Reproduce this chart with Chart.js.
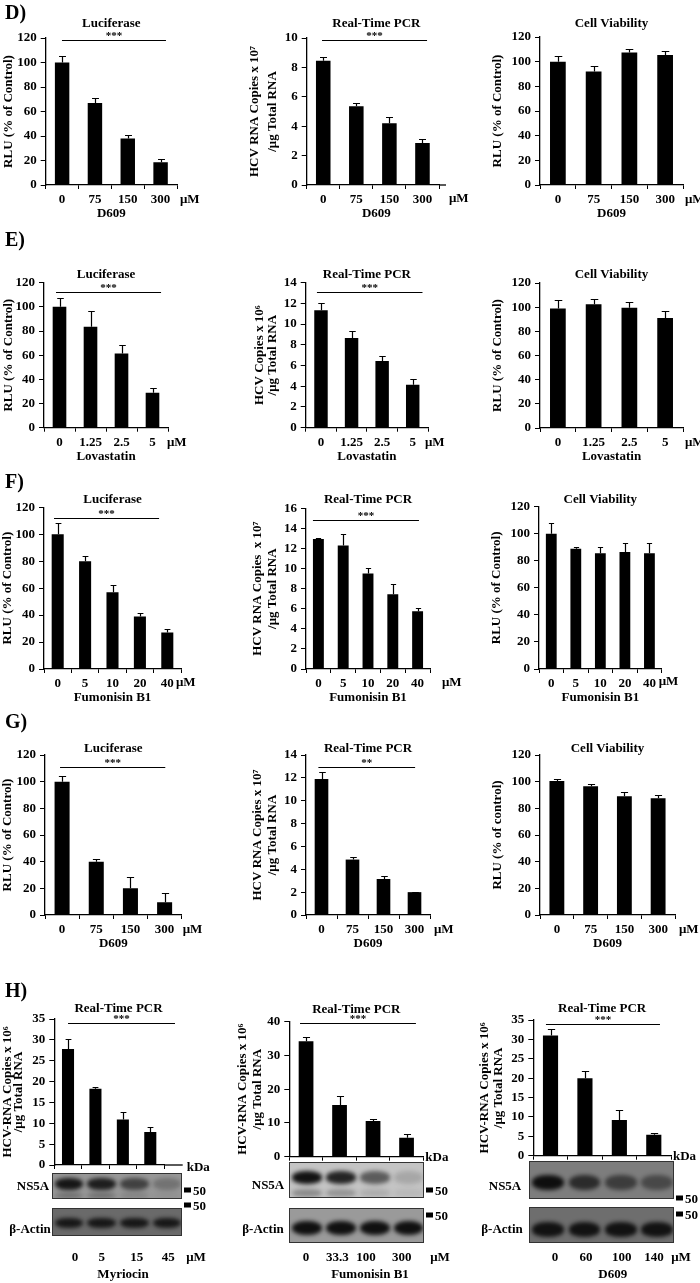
<!DOCTYPE html>
<html><head><meta charset="utf-8">
<script src="https://cdn.jsdelivr.net/npm/chart.js@4.4.1/dist/chart.umd.min.js"></script>
<style>
html,body{margin:0;padding:0;background:#fff;}
#page{position:relative;width:700px;height:1283px;overflow:hidden;font-family:"Liberation Serif","Times New Roman",serif;font-weight:bold;color:#000;}
canvas{position:absolute;}
.t{position:absolute;white-space:nowrap;transform:translate(-50%,-50%);font-size:13px;line-height:1;}
.tl{position:absolute;white-space:nowrap;transform:translate(0,-50%);font-size:13px;line-height:1;}
.panel{position:absolute;font-size:20px;transform:translate(0,-50%);line-height:1;}
.blot{position:absolute;overflow:hidden;border:1px solid #333;box-sizing:border-box;}
.mk{position:absolute;width:7px;height:5px;background:#000;transform:translate(0,-50%);}
</style></head>
<body><div id="page"></div>
<script>
// ---------------- DATA ----------------
const d609Doses = ['0', '75', '150', '300'];
const lovastatinDoses = ['0', '1.25', '2.5', '5'];
const fb1Doses = ['0', '5', '10', '20', '40'];
const myriocinDosesH = ['0', '5', '15', '45'];
const fb1DosesH = ['0', '33.3', '100', '300'];
const d609DosesH = ['0', '60', '100', '140'];

const rluTicks = [0, 20, 40, 60, 80, 100, 120];
const pcr10Ticks = [0, 2, 4, 6, 8, 10];
const pcr14Ticks = [0, 2, 4, 6, 8, 10, 12, 14];
const pcr16Ticks = [0, 2, 4, 6, 8, 10, 12, 14, 16];
const h35Ticks = [0, 5, 10, 15, 20, 25, 30, 35];
const h40Ticks = [0, 5, 10, 15, 20, 25, 30, 35, 40];

const dLucMean = [100, 67, 38, 18.5];
const dLucErr = [5, 4, 3, 3];
const dPcrMean = [8.45, 5.35, 4.2, 2.85];
const dPcrErr = [0.25, 0.25, 0.4, 0.3];
const dViaMean = [100, 92, 107.5, 105.5];
const dViaErr = [5, 4.5, 3, 3.5];

const eLucMean = [100, 83.5, 61.5, 29];
const eLucErr = [7, 13, 7, 3.5];
const ePcrMean = [11.35, 8.65, 6.45, 4.15];
const ePcrErr = [0.7, 0.7, 0.5, 0.55];
const eViaMean = [99, 102.5, 99.5, 91];
const eViaErr = [7, 4.5, 4.5, 6];

const fLucMean = [100, 80, 57, 39, 27];
const fLucErr = [8, 4, 5.5, 2.5, 3];
const fPcrMean = [12.95, 12.3, 9.5, 7.45, 5.75];
const fPcrErr = [0.1, 1.15, 0.6, 1.05, 0.3];
const fViaMean = [100, 89, 85.5, 86.5, 85.5];
const fViaErr = [8, 1, 4.5, 6.5, 8];

const gLucMean = [100, 40, 20, 9.5];
const gLucErr = [4.5, 2, 8.5, 7];
const gPcrMean = [11.9, 4.85, 3.15, 2.0];
const gPcrErr = [0.6, 0.2, 0.3, 0.05];
const gViaMean = [100.5, 96.5, 89, 87.5];
const gViaErr = [1.5, 2, 3.5, 2.5];

const hMyrMean = [27.8, 18.3, 10.9, 7.9];
const hMyrErr = [2.5, 0.3, 1.7, 1.3];
const hFb1Mean = [34.2, 15.3, 10.6, 5.6];
const hFb1Err = [1.3, 2.8, 0.5, 1.0];
const hD609Mean = [31, 20, 9.2, 5.4];
const hD609Err = [1.8, 1.8, 2.6, 0.5];

// western blot band intensities (per lane)
const ns5aMyr = [0.9, 0.85, 0.6, 0.25];
const actinMyr = [0.85, 0.85, 0.85, 0.85];
const ns5aFb1 = [0.95, 0.85, 0.55, 0.15];
const actinFb1 = [0.95, 0.95, 0.95, 0.95];
const ns5aD609 = [0.95, 0.7, 0.55, 0.45];
const actinD609 = [0.9, 0.9, 0.9, 0.9];

// ---------------- DRAWING ----------------
const page = document.getElementById('page');
const FONT = '"Liberation Serif", "Times New Roman", serif';
const WY = 34, HX = 22;
const crisp = v => Math.round(v) + 0.5;

function annot(spec) {
  return {
    id: 'annot',
    afterDatasetsDraw(chart) {
      const ctx = chart.ctx, ys = chart.scales.y;
      const meta = chart.getDatasetMeta(0);
      ctx.save();
      ctx.strokeStyle = '#000'; ctx.lineWidth = 1.2;
      meta.data.forEach((bar, i) => {
        const v = spec.values[i], e = spec.errors[i];
        const top = crisp(ys.getPixelForValue(v + e));
        const cap = bar.width * 0.24;
        const bx = crisp(bar.x);
        ctx.beginPath();
        ctx.moveTo(bx, bar.y); ctx.lineTo(bx, top);
        ctx.moveTo(bx - cap, top); ctx.lineTo(bx + cap, top);
        ctx.stroke();
      });
      ctx.restore();
    },
    afterDraw(chart) {
      const ctx = chart.ctx, ca = chart.chartArea;
      const L = ca.left, R = ca.left + (spec.box[1] - spec.box[0]);
      const mid = (L + R) / 2;
      ctx.save();
      ctx.fillStyle = '#000'; ctx.strokeStyle = '#000';
      if (R > ca.right + 0.5) {
        ctx.lineWidth = 1.3;
        ctx.beginPath(); ctx.moveTo(ca.right, ca.bottom); ctx.lineTo(R, ca.bottom); ctx.stroke();
      }
      ctx.textAlign = 'center'; ctx.textBaseline = 'middle';
      ctx.font = 'bold 13px ' + FONT;
      ctx.fillText(spec.title, mid, ca.top + spec.titleDy);
      if (spec.sig) {
        const sy = crisp(ca.top + spec.sigDy);
        const sx0 = L + (R - L) * spec.sigFrom, sx1 = L + (R - L) * spec.sigTo;
        ctx.lineWidth = 1;
        ctx.beginPath(); ctx.moveTo(sx0, sy); ctx.lineTo(sx1, sy); ctx.stroke();
        ctx.font = 'bold 11px ' + FONT;
        ctx.fillText(spec.sig, (sx0 + sx1) / 2, sy - 4);
      }
      ctx.font = 'bold 13px ' + FONT;
      if (spec.caption) ctx.fillText(spec.caption, mid, ca.bottom + 28.5);
      ctx.textAlign = 'left';
      if (spec.unit) ctx.fillText(spec.unit, R + spec.unitDx, ca.bottom + spec.unitDy);
      const cy = (ca.top + ca.bottom) / 2;
      spec.yTitle.forEach((t, k) => {
        ctx.save();
        ctx.translate(L - spec.yTitleOff[k], cy);
        ctx.rotate(-Math.PI / 2);
        ctx.textAlign = 'center';
        ctx.fillText(t, 0, 0);
        ctx.restore();
      });
      ctx.restore();
    }
  };
}

function makeChart(spec) {
  const [x0, x1, yTop, yBot] = spec.box;
  const catEnd = spec.catEnd || x1;
  const cl = Math.floor(x0 - 62), ct = Math.floor(yTop - 34);
  const cw = Math.ceil(x1 + 36 - cl), ch = Math.ceil(yBot + 40 - ct);
  const cv = document.createElement('canvas');
  cv.width = cw; cv.height = ch;
  cv.style.left = cl + 'px'; cv.style.top = ct + 'px';
  cv.style.width = cw + 'px'; cv.style.height = ch + 'px';
  page.appendChild(cv);
  const yt = spec.yTicks;
  const tickFont = { family: FONT, size: 13, weight: 'bold' };
  new Chart(cv, {
    type: 'bar',
    data: { labels: spec.labels, datasets: [{ data: spec.values, backgroundColor: '#000', borderWidth: 0,
      barPercentage: 0.5, categoryPercentage: spec.catPct || 0.88 }] },
    options: {
      responsive: false, animation: false, devicePixelRatio: 1,
      layout: { padding: { left: x0 - cl - WY, top: yTop - ct, right: cl + cw - catEnd, bottom: ct + ch - yBot - HX } },
      plugins: { legend: { display: false }, tooltip: { enabled: false }, title: { display: false } },
      scales: {
        x: { offset: true,
          grid: { offset: true, drawOnChartArea: false, drawTicks: true, tickLength: 4, color: '#000', lineWidth: 1 },
          border: { display: true, color: '#000', width: 1.3 },
          ticks: { display: spec.xTicks !== false, color: '#000', font: tickFont, padding: 3, maxRotation: 0, autoSkip: false },
          afterFit: s => { s.height = HX; } },
        y: { min: 0, max: yt[yt.length - 1],
          afterBuildTicks: s => { s.ticks = yt.map(v => ({ value: v })); },
          grid: { drawOnChartArea: false, drawTicks: true, tickLength: 5, color: '#000', lineWidth: 1 },
          border: { display: true, color: '#000', width: 1.3 },
          ticks: { color: '#000', font: tickFont, padding: 4 },
          afterFit: s => { s.width = WY; } }
      }
    },
    plugins: [annot(spec)]
  });
}

function text(cls, str, x, y, size) {
  const d = document.createElement('div');
  d.className = cls; d.textContent = str;
  d.style.left = x + 'px'; d.style.top = y + 'px';
  if (size) d.style.fontSize = size + 'px';
  page.appendChild(d);
}

function blot(x0, x1, y0, y1, bg, intens, cy, h, lowIntens) {
  const d = document.createElement('div');
  d.className = 'blot';
  d.style.left = x0 + 'px'; d.style.top = y0 + 'px';
  d.style.width = (x1 - x0) + 'px'; d.style.height = (y1 - y0) + 'px';
  d.style.background = bg;
  const W = x1 - x0, H = y1 - y0, n = intens.length, lw = W / n;
  const add = (v, i, c, hh) => {
    const e = document.createElement('div');
    e.style.cssText = `position:absolute;left:${i * lw + lw * 0.06}px;width:${lw * 0.88}px;top:${(c - hh / 2) * H}px;height:${hh * H}px;background:rgba(8,8,8,${v});border-radius:45%;filter:blur(2px);`;
    d.appendChild(e);
  };
  intens.forEach((v, i) => add(v, i, cy, h));
  if (lowIntens) lowIntens.forEach((v, i) => add(v, i, 0.82, 0.22));
  page.appendChild(d);
}

function marker(x, y) {
  const m = document.createElement('div');
  m.className = 'mk'; m.style.left = x + 'px'; m.style.top = y + 'px';
  page.appendChild(m);
  text('tl', '50', x + 9, y);
}

const LUC = 'Luciferase', PCR = 'Real-Time PCR', VIA = 'Cell Viability';
const RLU = ['RLU (% of Control)'];

// Row D
makeChart({ box: [45.7, 177, 38, 185], labels: d609Doses, values: dLucMean, errors: dLucErr, yTicks: rluTicks,
  title: LUC, titleDy: -14, sig: '***', sigDy: 2, sigFrom: 0.124, sigTo: 0.916, yTitle: RLU, yTitleOff: [37],
  caption: 'D609', unit: 'μM', unitDx: 3, unitDy: 15 });
makeChart({ box: [306.7, 446, 38, 185], catEnd: 439, labels: d609Doses, values: dPcrMean, errors: dPcrErr, yTicks: pcr10Ticks,
  title: PCR, titleDy: -14, sig: '***', sigDy: 2, sigFrom: 0.11, sigTo: 0.864,
  yTitle: ['HCV RNA Copies x 10⁷', '/μg Total RNA'], yTitleOff: [52, 34],
  caption: 'D609', unit: 'μM', unitDx: 3, unitDy: 14 });
makeChart({ box: [540, 683, 37, 185], labels: d609Doses, values: dViaMean, errors: dViaErr, yTicks: rluTicks,
  title: VIA, titleDy: -13, yTitle: RLU, yTitleOff: [42],
  caption: 'D609', unit: 'μM', unitDx: 2, unitDy: 15 });

// Row E
makeChart({ box: [44, 168, 282.7, 427.7], labels: lovastatinDoses, values: eLucMean, errors: eLucErr, yTicks: rluTicks,
  title: LUC, titleDy: -8, sig: '***', sigDy: 9, sigFrom: 0.097, sigTo: 0.944, yTitle: RLU, yTitleOff: [35],
  caption: 'Lovastatin', unit: 'μM', unitDx: -1, unitDy: 15 });
makeChart({ box: [305.7, 428, 282.7, 427.7], labels: lovastatinDoses, values: ePcrMean, errors: ePcrErr, yTicks: pcr14Ticks,
  title: PCR, titleDy: -8, sig: '***', sigDy: 9, sigFrom: 0.092, sigTo: 0.955,
  yTitle: ['HCV Copies x 10⁶', '/μg Total RNA'], yTitleOff: [46, 33],
  caption: 'Lovastatin', unit: 'μM', unitDx: -3, unitDy: 15 });
makeChart({ box: [540, 683, 283, 428], labels: lovastatinDoses, values: eViaMean, errors: eViaErr, yTicks: rluTicks,
  title: VIA, titleDy: -8, yTitle: RLU, yTitleOff: [42],
  caption: 'Lovastatin', unit: 'μM', unitDx: 2, unitDy: 15 });

// Row F
makeChart({ box: [44, 181, 507.3, 669], labels: fb1Doses, values: fLucMean, errors: fLucErr, yTicks: rluTicks,
  title: LUC, titleDy: -7.5, sig: '***', sigDy: 11, sigFrom: 0.073, sigTo: 0.84, yTitle: RLU, yTitleOff: [36],
  caption: 'Fumonisin B1', unit: 'μM', unitDx: -5, unitDy: 14 });
makeChart({ box: [306, 430, 508.3, 669], labels: fb1Doses, values: fPcrMean, errors: fPcrErr, yTicks: pcr16Ticks,
  title: PCR, titleDy: -8.3, sig: '***', sigDy: 11.7, sigFrom: 0.056, sigTo: 0.911,
  yTitle: ['HCV RNA Copies  x 10⁷', '/μg Total RNA'], yTitleOff: [48, 33],
  caption: 'Fumonisin B1', unit: 'μM', unitDx: 12, unitDy: 14 });
makeChart({ box: [539, 661.7, 506.7, 669], labels: fb1Doses, values: fViaMean, errors: fViaErr, yTicks: rluTicks,
  title: VIA, titleDy: -6.7, yTitle: RLU, yTitleOff: [42],
  caption: 'Fumonisin B1', unit: 'μM', unitDx: -3, unitDy: 13 });

// Row G
makeChart({ box: [45, 181.7, 755, 915], labels: d609Doses, values: gLucMean, errors: gLucErr, yTicks: rluTicks,
  title: LUC, titleDy: -6, sig: '***', sigDy: 12.3, sigFrom: 0.11, sigTo: 0.88, yTitle: RLU, yTitleOff: [37],
  caption: 'D609', unit: 'μM', unitDx: 1, unitDy: 15 });
makeChart({ box: [306, 430, 755, 915], labels: d609Doses, values: gPcrMean, errors: gPcrErr, yTicks: pcr14Ticks,
  title: PCR, titleDy: -6, sig: '**', sigDy: 12, sigFrom: 0.1, sigTo: 0.88,
  yTitle: ['HCV RNA Copies x 10⁷', '/μg Total RNA'], yTitleOff: [48, 33],
  caption: 'D609', unit: 'μM', unitDx: 4, unitDy: 15 });
makeChart({ box: [540, 675, 755, 915], labels: d609Doses, values: gViaMean, errors: gViaErr, yTicks: rluTicks,
  title: VIA, titleDy: -6, yTitle: ['RLU (% of control)'], yTitleOff: [42],
  caption: 'D609', unit: 'μM', unitDx: 4, unitDy: 15 });

// Row H
const HT = ['HCV-RNA Copies x 10⁶', '/μg Total RNA'];
makeChart({ box: [54.3, 182.7, 1019, 1165], catEnd: 164, labels: myriocinDosesH, values: hMyrMean, errors: hMyrErr, yTicks: h35Ticks,
  title: PCR, titleDy: -10, sig: '***', sigDy: 3.7, sigFrom: 0.107, sigTo: 0.94, yTitle: HT, yTitleOff: [47, 36],
  xTicks: false, unit: 'kDa', unitDx: 4, unitDy: 3 });
makeChart({ box: [289.3, 423.3, 1021.7, 1156.7], labels: fb1DosesH, values: hFb1Mean, errors: hFb1Err, yTicks: h40Ticks,
  title: PCR, titleDy: -11.7, sig: '***', sigDy: 1, sigFrom: 0.08, sigTo: 0.945, yTitle: HT, yTitleOff: [47, 32],
  xTicks: false, unit: 'kDa', unitDx: 2, unitDy: 1 });
makeChart({ box: [533.3, 671, 1020, 1155.7], labels: d609DosesH, values: hD609Mean, errors: hD609Err, yTicks: h35Ticks,
  title: PCR, titleDy: -11, sig: '***', sigDy: 4, sigFrom: 0.092, sigTo: 0.92, yTitle: HT, yTitleOff: [49, 35],
  xTicks: false, unit: 'kDa', unitDx: 2, unitDy: 1 });

// Western blots (H)
blot(51.7, 182.3, 1172.7, 1199.3, '#979797', ns5aMyr, 0.38, 0.45, [0.3, 0.3, 0.15, 0.05]);
blot(51.7, 182.3, 1208.3, 1235.7, '#6a6a6a', actinMyr, 0.5, 0.38);
blot(289.3, 424.3, 1162.3, 1198.3, '#c4c4c4', ns5aFb1, 0.4, 0.35, [0.3, 0.25, 0.12, 0.06]);
blot(289.3, 424.3, 1207.7, 1243.3, '#9a9a9a', actinFb1, 0.55, 0.4);
blot(529.3, 674, 1161, 1199, '#7d7d7d', ns5aD609, 0.55, 0.4);
blot(529.3, 674, 1206.7, 1243.3, '#6e6e6e', actinD609, 0.6, 0.4);

text('t', 'NS5A', 33, 1185); text('t', 'β-Actin', 30, 1228);
text('t', 'NS5A', 268, 1184); text('t', 'β-Actin', 263, 1228);
text('t', 'NS5A', 505, 1185); text('t', 'β-Actin', 502, 1228);
marker(184, 1190); marker(184, 1205);
marker(426, 1190); marker(426, 1215);
marker(676, 1198); marker(676, 1214);

const laneY = 1256, capY = 1273;
[75, 101.7, 136.7, 168.3].forEach((x, i) => text('t', myriocinDosesH[i], x, laneY));
text('t', 'μM', 196, laneY); text('t', 'Myriocin', 123, capY);
[306, 337.3, 366, 401.7].forEach((x, i) => text('t', fb1DosesH[i], x, laneY));
text('t', 'μM', 440, laneY); text('t', 'Fumonisin B1', 370, capY);
[555, 586, 621.7, 654].forEach((x, i) => text('t', d609DosesH[i], x, laneY));
text('t', 'μM', 681, laneY); text('t', 'D609', 612.7, capY);

// panel letters
[['D)', 12], ['E)', 239], ['F)', 481], ['G)', 721], ['H)', 990]].forEach(([s, y]) => text('panel', s, 5, y));
</script>
</body></html>
